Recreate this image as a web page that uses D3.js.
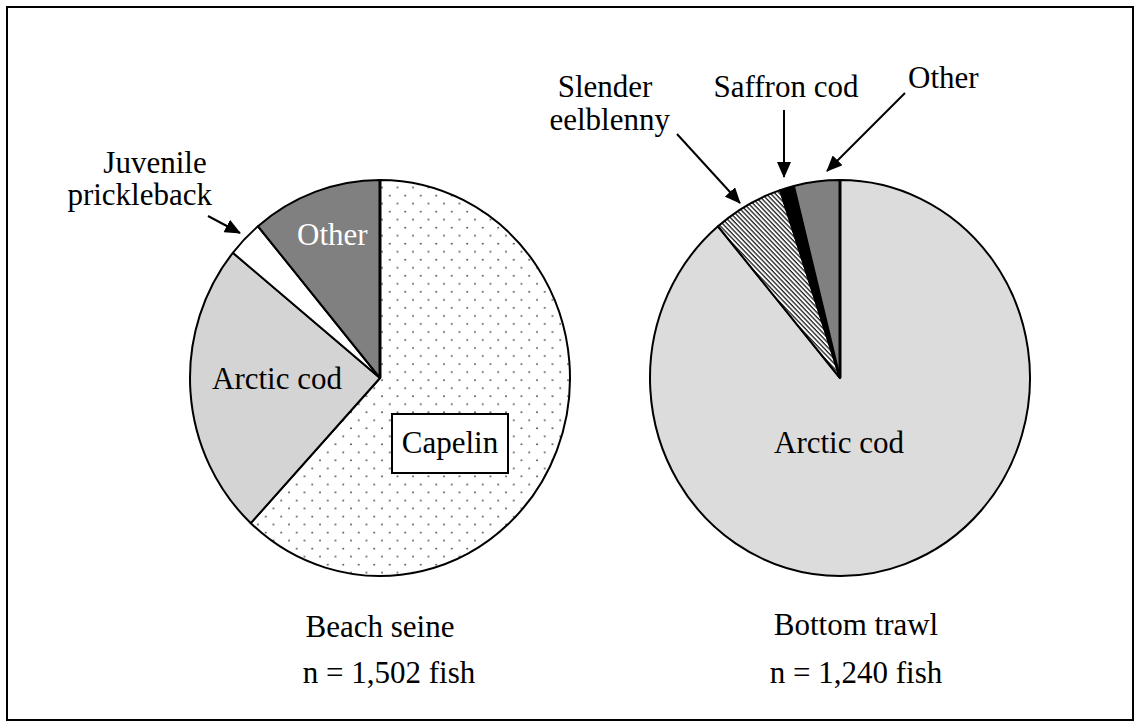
<!DOCTYPE html>
<meta charset="utf-8">
<style>
body { margin: 0; background: #fff; }
text { font-family: "Times New Roman", "Liberation Serif", serif; font-size: 31px; fill: #000; }
</style>
<svg width="1141" height="728"></svg>
<script src="https://cdn.jsdelivr.net/npm/d3@7"></script>
<script>

// percent of catch, clockwise from 12 o'clock
var beachSpecies = ["Capelin", "Arctic cod", "Juvenile prickleback", "Other"];
var beachPct = [61.9, 24.0, 3.0, 11.1];
var trawlSpecies = ["Arctic cod", "Slender eelblenny", "Saffron cod", "Other"];
var trawlPct = [88.9, 6.0, 1.2, 3.9];
var gearNames = ["Beach seine", "Bottom trawl"];
var gearN = ["n = 1,502 fish", "n = 1,240 fish"];

var svg = d3.select("svg"),
    radius = 190,
    squash = 1.042;

var defs = svg.append("defs");

// dotted fill for capelin
var dots = defs.append("pattern")
    .attr("id", "dots")
    .attr("patternUnits", "userSpaceOnUse")
    .attr("width", 15.5).attr("height", 15.4);
dots.append("rect").attr("width", 15.5).attr("height", 15.4).attr("fill", "#fff");
dots.append("circle").attr("cx", 2).attr("cy", 2).attr("r", 0.9).attr("fill", "#444");
dots.append("circle").attr("cx", 9.75).attr("cy", 9.7).attr("r", 0.9).attr("fill", "#444");

// hatching for slender eelblenny
var hatch = defs.append("pattern")
    .attr("id", "hatch")
    .attr("patternUnits", "userSpaceOnUse")
    .attr("width", 3.2).attr("height", 3.2)
    .attr("patternTransform", "rotate(45)");
hatch.append("rect").attr("width", 3.2).attr("height", 3.2).attr("fill", "#fff");
hatch.append("rect").attr("width", 3.2).attr("height", 1.3).attr("fill", "#222");

defs.append("marker")
    .attr("id", "head")
    .attr("markerUnits", "userSpaceOnUse")
    .attr("viewBox", "0 0 16 14")
    .attr("refX", 15).attr("refY", 7)
    .attr("markerWidth", 16).attr("markerHeight", 14)
    .attr("orient", "auto")
  .append("path")
    .attr("d", "M0,0L16,7L0,14Z")
    .attr("fill", "#000");

// frame
svg.append("rect")
    .attr("x", 7).attr("y", 7)
    .attr("width", 1126).attr("height", 713)
    .attr("fill", "none").attr("stroke", "#000").attr("stroke-width", 2);

var pie = d3.pie().sort(null).value(function(d) { return d; });
var arc = d3.arc().innerRadius(0).outerRadius(radius);

function drawPie(cx, cy, values, fills) {
  var g = svg.append("g")
      .attr("transform", "translate(" + cx + "," + cy + ") scale(1," + squash + ")");
  g.selectAll("path")
    .data(pie(values))
    .enter().append("path")
      .attr("d", arc)
      .attr("fill", function(d, i) { return fills[i]; })
      .attr("stroke", "#000")
      .attr("stroke-width", 2)
      .attr("stroke-linejoin", "round")
      .attr("vector-effect", "non-scaling-stroke");
  g.append("line")
      .attr("x1", 0).attr("y1", 0).attr("x2", 0).attr("y2", -radius)
      .attr("stroke", "#000").attr("stroke-width", 3)
      .attr("vector-effect", "non-scaling-stroke");
}

drawPie(380, 378, beachPct, ["url(#dots)", "#d4d4d4", "#fff", "#808080"]);
drawPie(840, 378, trawlPct, ["#dcdcdc", "url(#hatch)", "#000", "#808080"]);

function label(x, y, s, anchor, color) {
  return svg.append("text")
      .attr("x", x).attr("y", y)
      .attr("text-anchor", anchor || "start")
      .style("fill", color || "#000")
      .text(s);
}

function arrow(x1, y1, x2, y2) {
  svg.append("line")
      .attr("x1", x1).attr("y1", y1).attr("x2", x2).attr("y2", y2)
      .attr("stroke", "#000").attr("stroke-width", 2)
      .attr("marker-end", "url(#head)");
}

// beach seine labels
label(297, 245, beachSpecies[3], "start", "#fff");
label(212, 389, beachSpecies[1]);
svg.append("rect")
    .attr("x", 392).attr("y", 414).attr("width", 116).attr("height", 59)
    .attr("fill", "#fff").attr("stroke", "#000").attr("stroke-width", 2);
label(450, 453, beachSpecies[0], "middle");
label(155, 173, "Juvenile", "middle");
label(212, 205, "prickleback", "end");
arrow(208, 216, 240, 233);

// bottom trawl labels
label(839, 453, trawlSpecies[0], "middle");
label(605, 97, "Slender", "middle");
label(670, 130, "eelblenny", "end");
arrow(677, 134, 740, 203);
label(786, 97, trawlSpecies[2], "middle");
arrow(784, 110, 784, 177);
label(908, 88, trawlSpecies[3]);
arrow(905, 93, 827, 171);

// gear captions
label(380, 637, gearNames[0], "middle");
label(389, 683, gearN[0], "middle");
label(856, 635, gearNames[1], "middle");
label(856, 683, gearN[1], "middle");

</script>
